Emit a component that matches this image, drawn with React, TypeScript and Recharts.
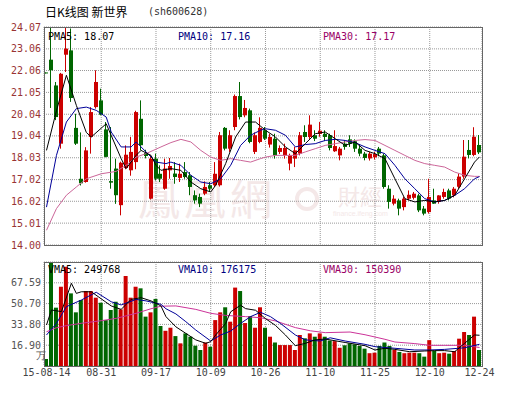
import React from 'react';
import { ComposedChart, Bar, Line, XAxis, YAxis, CartesianGrid, Cell } from 'recharts';

// 日K线 新世界 sh600628, 2015-08-14 ~ 2015-12-24
const opens = [21.97, 22.56, 21.37, 18.68, 22.79, 22.99, 19.41, 17.06, 16.91, 18.99,
  20.37, 20.68, 19.34, 16.95, 17.53, 15.84, 17.56, 17.45, 17.83, 19.83,
  18.25, 16.14, 17.99, 17.29, 16.60, 17.45, 17.30, 17.10, 17.37, 17.22,
  16.30, 16.22, 16.37, 16.76, 16.76, 16.76, 19.41, 18.45, 19.45, 20.88,
  19.99, 20.22, 18.30, 18.76, 19.30, 18.64, 18.91, 18.30, 18.14, 17.76,
  17.99, 18.22, 19.22, 18.99, 19.07, 19.13, 19.14, 19.07, 18.33, 18.14,
  18.68, 18.88, 18.79, 18.45, 18.22, 18.00, 18.05, 18.45, 18.14, 16.60,
  15.91, 16.06, 15.75, 16.14, 16.18, 16.29, 15.68, 15.52, 16.06, 15.99,
  16.22, 16.52, 16.29, 16.69, 17.16, 18.39, 18.16, 18.62];

const highs = [21.97, 24.07, 21.53, 21.95, 24.07, 24.00, 20.06, 19.20, 18.52, 20.37,
  22.07, 21.22, 19.68, 19.45, 17.99, 17.85, 18.60, 18.99, 20.20, 20.68,
  18.40, 18.14, 18.22, 17.68, 17.99, 18.02, 17.83, 17.76, 17.83, 17.37,
  16.52, 16.37, 16.94, 16.91, 17.83, 19.22, 19.45, 19.30, 20.95, 21.53,
  20.70, 20.30, 19.20, 19.90, 19.45, 19.14, 19.14, 18.60, 18.68, 18.22,
  18.53, 19.22, 19.53, 19.99, 19.30, 19.68, 19.30, 19.14, 19.30, 18.53,
  18.83, 19.07, 18.88, 18.60, 18.30, 18.30, 18.30, 18.53, 18.22, 16.76,
  16.30, 16.14, 16.22, 16.52, 16.45, 16.37, 15.80, 17.06, 16.60, 16.30,
  16.60, 16.60, 16.68, 17.30, 18.85, 18.85, 19.44, 19.08];

const lows = [21.97, 20.33, 19.77, 18.45, 21.99, 20.61, 18.62, 16.75, 16.88, 18.22,
  20.30, 19.99, 18.05, 16.60, 15.90, 15.37, 17.50, 17.20, 17.50, 18.37,
  18.00, 16.10, 16.98, 16.91, 16.55, 17.06, 16.83, 16.91, 17.06, 16.30,
  15.91, 15.75, 16.30, 16.45, 16.68, 16.70, 18.37, 18.30, 19.30, 19.80,
  19.90, 18.70, 18.20, 18.70, 18.85, 18.50, 17.99, 18.20, 17.99, 17.45,
  17.60, 18.14, 18.76, 18.90, 18.80, 19.00, 18.80, 18.37, 18.30, 17.91,
  18.40, 18.53, 18.30, 18.10, 17.91, 17.90, 17.95, 18.10, 16.60, 15.68,
  15.83, 15.37, 15.60, 16.06, 16.10, 15.52, 15.37, 15.45, 15.90, 15.91,
  16.14, 16.06, 16.20, 16.60, 17.06, 18.00, 18.10, 18.20];

const closes = [21.97, 22.07, 19.91, 21.91, 23.07, 20.79, 18.68, 16.85, 18.37, 20.14,
  21.53, 20.02, 18.07, 16.88, 16.30, 17.80, 18.17, 18.30, 20.14, 18.61,
  18.11, 17.99, 17.06, 17.06, 17.53, 17.65, 17.14, 17.29, 17.14, 16.68,
  16.06, 15.91, 16.68, 16.60, 17.29, 19.07, 18.45, 19.07, 20.88, 19.91,
  20.33, 18.76, 19.07, 19.41, 18.91, 18.99, 18.14, 18.48, 18.48, 18.14,
  18.37, 19.07, 18.99, 19.56, 18.91, 19.28, 18.99, 18.48, 18.57, 18.45,
  18.53, 18.68, 18.45, 18.22, 18.02, 18.22, 18.20, 18.22, 16.68, 15.99,
  16.14, 15.68, 16.14, 16.32, 16.37, 15.60, 15.45, 16.22, 15.91, 16.29,
  16.45, 16.14, 16.60, 17.16, 18.08, 18.16, 19.00, 18.28];

// 成交量 (万)
const volumes = [5.7, 84.49, 47.4, 64.4, 80.7, 59.0, 43.6, 53.6, 60.9, 60.9,
  55.5, 51.4, 37.3, 45.5, 52.2, 46.0, 73.1, 55.5, 64.4, 63.1,
  40.1, 43.6, 54.5, 32.5, 28.6, 31.1, 24.3, 18.4, 26.5, 23.8,
  16.5, 13.0, 19.1, 15.7, 37.3, 43.6, 47.7, 36.0, 63.7, 60.9,
  34.9, 40.6, 31.1, 47.7, 31.1, 23.8, 19.1, 17.0, 17.0, 17.0,
  13.0, 25.2, 22.5, 26.5, 23.8, 26.5, 23.8, 20.7, 20.2, 14.8,
  16.8, 18.4, 17.6, 16.3, 14.1, 10.4, 10.8, 16.3, 19.1, 16.3,
  13.0, 11.4, 10.4, 10.8, 10.8, 10.4, 7.6, 21.0, 12.2, 10.4,
  10.8, 10.0, 12.2, 22.2, 27.6, 25.2, 40.1, 13.0];

// moving averages: [day index, value]
const pma5 = [[0, 18.37], [2, 20.2], [4, 21.84], [6, 20.45], [8, 19.2], [9, 18.99], [12, 19.6],
  [15, 17.99], [16, 17.53], [18, 18.14], [19, 18.37], [21, 18.14], [22, 17.68], [23, 17.45],
  [25, 17.53], [27, 17.45], [29, 16.91], [31, 16.6], [33, 16.45], [34, 16.76], [36, 17.76],
  [38, 18.99], [40, 19.68], [42, 19.68], [44, 19.3], [46, 18.99], [48, 18.53], [50, 18.22],
  [52, 18.68], [54, 19.14], [56, 19.22], [58, 18.91], [60, 18.6], [62, 18.76], [64, 18.37],
  [66, 18.22], [68, 17.99], [70, 17.06], [72, 16.14], [74, 15.99], [76, 16.06], [78, 15.99],
  [80, 16.06], [82, 16.29], [84, 17.06], [86, 17.83], [87, 18.07]];
const pma10 = [[0, 15.75], [2, 18.14], [4, 19.68], [6, 20.3], [8, 20.37], [10, 20.22], [12, 19.91],
  [13, 19.22], [15, 18.53], [17, 18.53], [18, 18.76], [20, 18.3], [22, 17.83], [24, 17.76],
  [25, 17.83], [27, 17.68], [29, 17.22], [31, 16.91], [33, 16.83], [35, 17.06], [37, 17.68],
  [39, 18.6], [41, 19.07], [43, 19.3], [44, 19.37], [46, 19.3], [48, 19.07], [50, 18.53],
  [52, 18.64], [54, 18.68], [56, 18.83], [58, 18.88], [60, 18.83], [62, 18.73], [64, 18.53],
  [66, 18.37], [68, 18.22], [70, 17.68], [72, 17.06], [74, 16.6], [76, 16.14], [78, 15.99],
  [80, 16.06], [82, 16.29], [84, 16.6], [86, 17.06], [87, 17.16]];
const pma30 = [[0, 14.68], [2, 15.68], [4, 16.3], [6, 16.68], [8, 17.06], [11, 17.29], [14, 17.4],
  [16, 17.68], [18, 18.06], [20, 18.22], [23, 18.53], [25, 18.73], [27, 18.88], [29, 18.76],
  [31, 18.37], [33, 18.06], [35, 17.91], [37, 17.99], [39, 17.91], [41, 17.83], [43, 17.99],
  [44, 18.06], [46, 18.14], [48, 18.14], [50, 18.14], [52, 18.3], [54, 18.45], [56, 18.6],
  [58, 18.68], [60, 18.76], [62, 18.83], [64, 18.87], [66, 18.83], [68, 18.6], [70, 18.37],
  [72, 18.14], [74, 17.91], [76, 17.76], [78, 17.68], [80, 17.6], [82, 17.37], [84, 17.22],
  [86, 17.17], [87, 17.17]];

const vma5 = [[0, 33.3], [1, 45.5], [3, 44.2], [5, 67.2], [6, 59.0], [7, 60.3], [9, 60.3], [13, 48.8],
  [15, 46.0], [17, 54.1], [19, 55.5], [21, 52.9], [23, 48.8], [24, 40.1], [26, 31.8], [28, 26.5],
  [30, 21.2], [32, 18.4], [33, 19.8], [34, 25.2], [36, 34.6], [37, 44.0], [39, 49.4], [40, 46.6],
  [42, 45.3], [44, 38.5], [46, 33.0], [48, 25.2], [50, 16.5], [52, 18.4], [54, 21.2], [56, 21.9],
  [60, 19.1], [64, 16.5], [66, 13.0], [68, 14.4], [70, 13.5], [73, 11.6], [76, 12.2], [78, 12.5],
  [80, 12.5], [82, 11.6], [84, 18.4], [86, 25.2], [87, 24.98]];
const vma10 = [[0, 25.2], [2, 34.6], [4, 48.2], [7, 53.6], [10, 59.9], [13, 52.2], [15, 49.6],
  [18, 54.1], [20, 52.9], [23, 50.1], [24, 46.5], [26, 42.3], [28, 36.0], [30, 29.2], [33, 20.3],
  [35, 25.2], [37, 28.4], [39, 34.6], [41, 40.1], [43, 43.6], [45, 40.1], [47, 34.6], [50, 25.2],
  [52, 21.2], [55, 20.3], [57, 22.9], [60, 20.3], [64, 17.6], [66, 15.7], [70, 14.4], [74, 13.0],
  [77, 13.0], [80, 13.5], [84, 14.8], [87, 17.62]];
const vma30 = [[0, 27.8], [2, 31.1], [4, 32.8], [7, 34.7], [11, 36.8], [14, 38.7], [18, 42.8],
  [21, 46.5], [23, 48.6], [26, 48.8], [30, 46.0], [33, 42.8], [36, 41.1], [40, 40.1], [43, 39.2],
  [46, 36.6], [50, 31.2], [53, 28.6], [56, 27.1], [61, 27.6], [64, 25.4], [68, 21.7], [70, 19.5],
  [74, 18.2], [77, 16.8], [80, 16.8], [84, 16.8], [87, 15.04]];

const dateTicks = [0, 11, 22, 33, 44, 55, 66, 77, 87];
const dateLabels = ['15-08-14', '08-31', '09-17', '10-09', '10-26', '11-10', '11-25', '12-10', '12-24'];
const gridTicks = [11, 22, 33, 44, 55, 66, 77];
const priceTicks = [14.00, 15.01, 16.02, 17.02, 18.03, 19.04, 20.04, 21.05, 22.06, 23.06, 24.07];
const volTicks = [16.90, 33.80, 50.70, 67.59];

const RED = '#cc0000';
const GREEN = '#006600';
const MONO = '"DejaVu Sans Mono", monospace';
const MARK = '#f4e8e8'; // watermark tint

const at = (pts: number[][], i: number) => {
  const p = pts.find((q) => q[0] === i);
  return p ? p[1] : null;
};

const rows = closes.map((c, i) => ({
  i,
  o: opens[i],
  h: highs[i],
  l: lows[i],
  c,
  v: volumes[i],
  pma5: at(pma5, i),
  pma10: at(pma10, i),
  pma30: at(pma30, i),
  vma5: at(vma5, i),
  vma10: at(vma10, i),
  vma30: at(vma30, i),
}));

const Candle = (props: any) => {
  const { x, y, width, height, payload } = props;
  const { o, h, l, c } = payload;
  const color = c > o ? RED : GREEN;
  const top = Math.min(y, y + height);
  const hgt = Math.abs(height);
  const span = h - l;
  const py = (v: number) => (span > 0 ? top + ((h - v) / span) * hgt : top);
  const left = Math.round(x);
  const wx = left + 1.5;
  const bTop = py(Math.max(o, c));
  const bBot = py(Math.min(o, c));
  return (
    <g>
      <line x1={wx} x2={wx} y1={top} y2={top + Math.max(hgt, 1)} stroke={color} strokeWidth={1} />
      <rect x={left} y={bTop} width={width} height={Math.max(1, bBot - bTop)} fill={color} />
    </g>
  );
};

const label = (left: number, top: number, color: string, text: string) => (
  <div style={{ position: 'absolute', left, top, color, fontFamily: MONO, fontSize: 10, lineHeight: '12px', whiteSpace: 'pre' }}>
    {text}
  </div>
);

const box = (left: number, top: number, width: number, height: number) => (
  <div style={{ position: 'absolute', left, top, width, height, boxSizing: 'border-box', border: '1px solid #666' }} />
);

export default function App() {
  return (
    <div style={{ position: 'absolute', left: 0, top: 0, width: 507, height: 394, background: '#fff', overflow: 'hidden' }}>
      {/* watermark */}
      <div style={{ position: 'absolute', left: 138, top: 172, fontFamily: '"Noto Sans CJK TC"', fontSize: 42, letterSpacing: 4, color: MARK, lineHeight: '50px' }}>鳳凰網</div>
      <div style={{ position: 'absolute', left: 295, top: 187, width: 24, height: 24, borderRadius: 12, border: '4px solid ' + MARK, boxSizing: 'border-box' }} />
      <div style={{ position: 'absolute', left: 338, top: 183, fontFamily: '"Noto Sans CJK TC"', fontSize: 22, color: MARK, lineHeight: '24px' }}>財經</div>
      <div style={{ position: 'absolute', left: 333, top: 210, fontFamily: 'Arial, sans-serif', fontSize: 7, lineHeight: '8px', color: MARK }}>finance.ifeng.com</div>

      <div style={{ position: 'absolute', left: 45, top: 4, fontFamily: '"Noto Sans CJK SC"', fontSize: 12, lineHeight: '16px', color: '#000', whiteSpace: 'pre' }}>日K线图 新世界</div>
      {label(148, 6, '#333', '(sh600628)')}

      <div style={{ position: 'absolute', left: 0, top: 0 }}>
        <ComposedChart width={507} height={250} data={rows} margin={{ top: 27, right: 25, bottom: 5, left: 0 }}>
          <CartesianGrid stroke="#999" strokeDasharray="1 1" />
          <XAxis dataKey="i" type="number" domain={[-0.5, 87.5]} allowDataOverflow ticks={gridTicks} hide />
          <YAxis
            domain={[14.0, 24.07]}
            allowDataOverflow
            ticks={priceTicks}
            interval={0}
            width={44}
            axisLine={false}
            tickLine={false}
            tickSize={0}
            tickMargin={3}
            tickFormatter={(v: number) => v.toFixed(2)}
            tick={{ fill: '#993333', fontSize: 10, fontFamily: MONO }}
          />
          <Bar dataKey={(d: any) => [d.l, d.h]} barSize={4} shape={<Candle />} isAnimationActive={false} />
          <Line dataKey="pma30" stroke="#cc6699" strokeWidth={1} dot={false} activeDot={false} connectNulls isAnimationActive={false} />
          <Line dataKey="pma10" stroke="#000099" strokeWidth={1} dot={false} activeDot={false} connectNulls isAnimationActive={false} />
          <Line dataKey="pma5" stroke="#000000" strokeWidth={1} dot={false} activeDot={false} connectNulls isAnimationActive={false} />
        </ComposedChart>
      </div>

      <div style={{ position: 'absolute', left: 0, top: 255 }}>
        <ComposedChart width={507} height={139} data={rows} margin={{ top: 7, right: 25, bottom: 0, left: 0 }}>
          <CartesianGrid stroke="#999" strokeDasharray="1 1" xAxisId="grid" />
          <XAxis xAxisId="grid" dataKey="i" type="number" domain={[-0.5, 87.5]} allowDataOverflow ticks={gridTicks} hide />
          <XAxis
            dataKey="i"
            type="number"
            domain={[-0.5, 87.5]}
            allowDataOverflow
            ticks={dateTicks}
            interval={0}
            height={28}
            axisLine={false}
            tickLine={false}
            tickSize={0}
            tickMargin={3}
            tickFormatter={(v: number) => dateLabels[dateTicks.indexOf(v)] ?? ''}
            tick={{ fill: '#444', fontSize: 10, fontFamily: MONO }}
          />
          <YAxis
            domain={[0, 84.49]}
            allowDataOverflow
            ticks={volTicks}
            interval={0}
            width={44}
            axisLine={false}
            tickLine={false}
            tickSize={0}
            tickMargin={3}
            tickFormatter={(v: number) => v.toFixed(2)}
            tick={{ fill: '#555', fontSize: 10, fontFamily: MONO }}
          />
          <Bar dataKey="v" barSize={4} isAnimationActive={false}>
            {rows.map((r) => (
              <Cell key={r.i} fill={r.c > r.o ? RED : GREEN} />
            ))}
          </Bar>
          <Line dataKey="vma30" stroke="#cc3399" strokeWidth={1} dot={false} activeDot={false} connectNulls isAnimationActive={false} />
          <Line dataKey="vma10" stroke="#000099" strokeWidth={1} dot={false} activeDot={false} connectNulls isAnimationActive={false} />
          <Line dataKey="vma5" stroke="#000000" strokeWidth={1} dot={false} activeDot={false} connectNulls isAnimationActive={false} />
        </ComposedChart>
      </div>

      {box(44, 27, 439, 219)}
      {box(44, 262, 439, 105)}

      {label(48, 31, '#000', 'PMA5: 18.07')}
      {label(178, 31, '#000080', 'PMA10: 17.16')}
      {label(323, 31, '#990066', 'PMA30: 17.17')}
      {label(48, 264, '#000', 'VMA5: 249768')}
      {label(178, 264, '#000080', 'VMA10: 176175')}
      {label(323, 264, '#990066', 'VMA30: 150390')}
      {label(36, 350, '#555', '万')}
    </div>
  );
}
